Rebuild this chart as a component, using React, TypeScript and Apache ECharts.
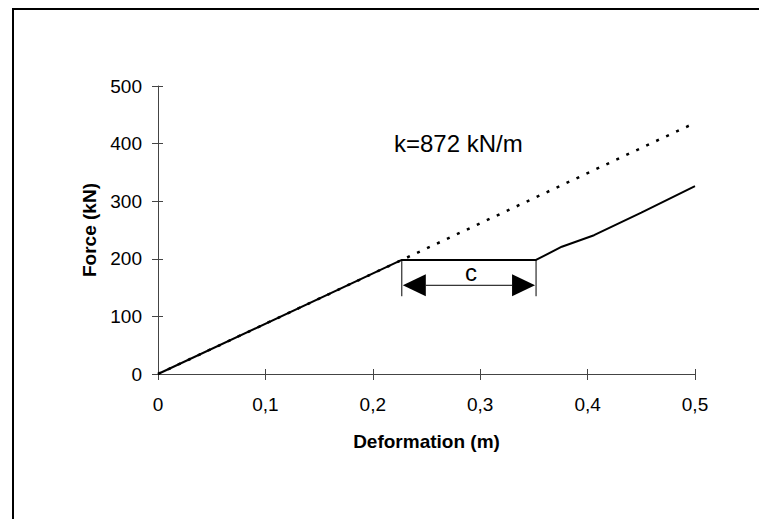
import React, { useEffect, useRef } from "react";
import * as echarts from "echarts";

// ---- data ----
const xTickValues = [0, 0.1, 0.2, 0.3, 0.4, 0.5];
const yTickValues = [0, 100, 200, 300, 400, 500];
// measured force-deformation curve (m, kN)
const measuredX = [0, 0.227, 0.352, 0.376, 0.406, 0.45, 0.5];
const measuredY = [0, 198, 198, 221, 241, 280, 326];
// elastic line with k = 872 kN/m
const stiffnessLabel = "k=872 kN/m";
const elasticX = [0, 0.5];
const elasticY = [0, 436];
// dimension "c": [xStart, xEnd, yTop, yBottom, yArrow]
const gapLabel = "c";
const gapDimension = [[0.227, 0.352, 198, 135, 154]];

const FONT = "'Liberation Sans', Arial, sans-serif";

export default function App() {
  const ref = useRef<HTMLDivElement>(null);
  useEffect(() => {
    if (!ref.current) return;
    const chart = echarts.init(ref.current, null, { renderer: "svg" });
    const axisColor = "#444";
    const fmt = (v: number) => String(Math.round(v * 10) / 10).replace(".", ",");
    const xMin = xTickValues[0];
    const xMax = xTickValues[xTickValues.length - 1];
    const yMin = yTickValues[0];
    const yMax = yTickValues[yTickValues.length - 1];
    const common = { type: "value" as const };
    chart.setOption({
      animation: false,
      backgroundColor: "#fff",
      textStyle: { fontFamily: FONT },
      grid: { left: 158, top: 86, right: 64, bottom: 145 },
      graphic: [
        {
          type: "rect",
          shape: { x: 13, y: 9, width: 800, height: 600 },
          style: { fill: "none", stroke: "#000", lineWidth: 2 },
          silent: true,
        },
        {
          type: "text",
          left: 394,
          top: 131,
          style: { text: stiffnessLabel, font: `24px ${FONT}`, fill: "#000" },
        },
      ],
      xAxis: [
        {
          ...common,
          min: xMin,
          max: xMax,
          interval: 0.1,
          position: "bottom",
          name: "Deformation (m)",
          nameLocation: "middle",
          nameGap: 58,
          nameTextStyle: { fontFamily: FONT, fontSize: 19, fontWeight: "bold", color: "#000" },
          axisLine: { show: true, lineStyle: { color: axisColor, width: 1 } },
          axisTick: { show: true, inside: false, length: 6, lineStyle: { color: axisColor } },
          axisLabel: { formatter: fmt, margin: 21, fontSize: 19, fontFamily: FONT, color: "#000" },
          splitLine: { show: false },
        },
        {
          ...common,
          min: xMin,
          max: xMax,
          interval: 0.1,
          position: "bottom",
          axisLine: { show: false },
          axisTick: { show: true, inside: true, length: 5, lineStyle: { color: axisColor } },
          axisLabel: { show: false },
          splitLine: { show: false },
        },
      ],
      yAxis: [
        {
          ...common,
          min: yMin,
          max: yMax,
          interval: 100,
          position: "left",
          name: "Force (kN)",
          nameLocation: "middle",
          nameGap: 55,
          nameTextStyle: { fontFamily: FONT, fontSize: 19, fontWeight: "bold", color: "#000" },
          axisLine: { show: true, lineStyle: { color: axisColor, width: 1 } },
          axisTick: { show: true, inside: false, length: 6, lineStyle: { color: axisColor } },
          axisLabel: { margin: 16, fontSize: 19, fontFamily: FONT, color: "#000" },
          splitLine: { show: false },
        },
        {
          ...common,
          min: yMin,
          max: yMax,
          interval: 100,
          position: "left",
          axisLine: { show: false },
          axisTick: { show: true, inside: true, length: 5, lineStyle: { color: axisColor } },
          axisLabel: { show: false },
          splitLine: { show: false },
        },
      ],
      series: [
        {
          type: "line",
          name: "elastic",
          data: elasticX.map((x, i) => [x, elasticY[i]]),
          showSymbol: false,
          lineStyle: { color: "#000", width: 2.5, type: [3, 8] },
          z: 2,
        },
        {
          type: "line",
          name: "measured",
          data: measuredX.map((x, i) => [x, measuredY[i]]),
          showSymbol: false,
          lineStyle: { color: "#000", width: 2 },
          z: 3,
        },
        {
          type: "custom",
          name: "gap",
          data: gapDimension,
          encode: { x: [0, 1], y: [2, 3, 4] },
          clip: false,
          z: 4,
          renderItem: (_params: any, api: any) => {
            const x1 = api.value(0);
            const x2 = api.value(1);
            const yTop = api.value(2);
            const yBot = api.value(3);
            const yArr = api.value(4);
            const tl = api.coord([x1, yTop]);
            const tr = api.coord([x2, yTop]);
            const bl = api.coord([x1, yBot]);
            const br = api.coord([x2, yBot]);
            const al = api.coord([x1, yArr]);
            const ar = api.coord([x2, yArr]);
            const L = 24;
            const H = 11;
            const stroke = { stroke: "#000", lineWidth: 1 };
            return {
              type: "group",
              children: [
                { type: "line", shape: { x1: tl[0], y1: tl[1], x2: bl[0], y2: bl[1] }, style: stroke },
                { type: "line", shape: { x1: tr[0], y1: tr[1], x2: br[0], y2: br[1] }, style: stroke },
                { type: "line", shape: { x1: al[0] + L, y1: al[1], x2: ar[0] - L, y2: ar[1] }, style: stroke },
                {
                  type: "polygon",
                  shape: { points: [[al[0] + 1, al[1]], [al[0] + L, al[1] - H], [al[0] + L, al[1] + H]] },
                  style: { fill: "#000" },
                },
                {
                  type: "polygon",
                  shape: { points: [[ar[0] - 1, ar[1]], [ar[0] - L, ar[1] - H], [ar[0] - L, ar[1] + H]] },
                  style: { fill: "#000" },
                },
                {
                  type: "text",
                  style: {
                    text: gapLabel,
                    x: (al[0] + ar[0]) / 2 + 2,
                    y: al[1] - 1,
                    align: "center",
                    verticalAlign: "bottom",
                    font: `24px ${FONT}`,
                    fill: "#000",
                  },
                },
              ],
            };
          },
        },
      ],
    });
    return () => chart.dispose();
  }, []);
  return (
    <div
      ref={ref}
      style={{ position: "absolute", left: 0, top: 0, width: 759, height: 519 }}
    />
  );
}
